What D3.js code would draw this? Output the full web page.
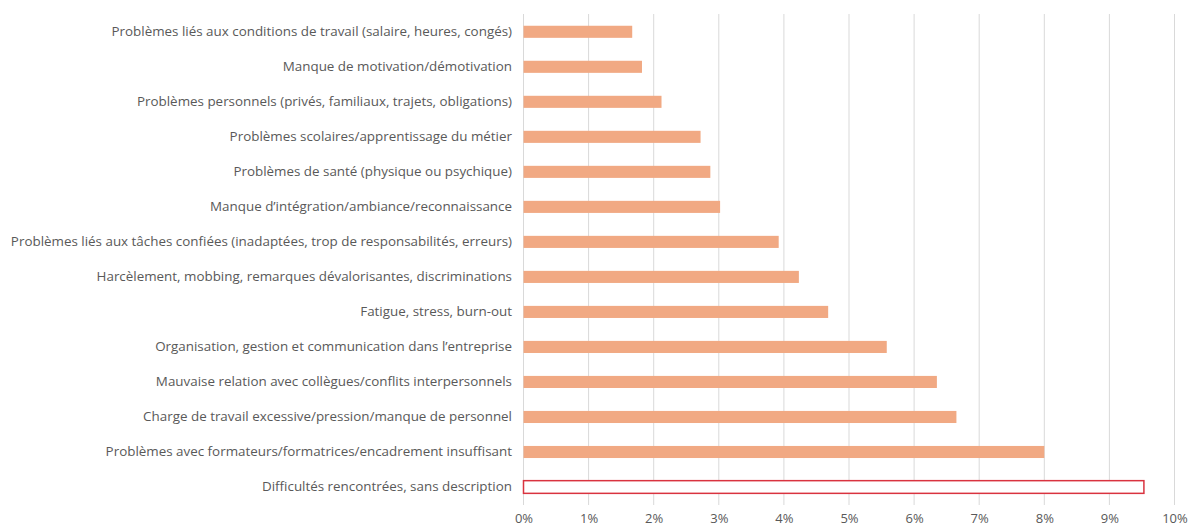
<!DOCTYPE html>
<html><head><meta charset="utf-8">
<script src="https://cdn.jsdelivr.net/npm/d3@7"></script>
<style>body{margin:0;background:#fff;}svg{display:block;}</style>
</head><body>
<script>
const categories = [
  "Problèmes liés aux conditions de travail (salaire, heures, congés)",
  "Manque de motivation/démotivation",
  "Problèmes personnels (privés, familiaux, trajets, obligations)",
  "Problèmes scolaires/apprentissage du métier",
  "Problèmes de santé (physique ou psychique)",
  "Manque d’intégration/ambiance/reconnaissance",
  "Problèmes liés aux tâches confiées (inadaptées, trop de responsabilités, erreurs)",
  "Harcèlement, mobbing, remarques dévalorisantes, discriminations",
  "Fatigue, stress, burn-out",
  "Organisation, gestion et communication dans l’entreprise",
  "Mauvaise relation avec collègues/conflits interpersonnels",
  "Charge de travail excessive/pression/manque de personnel",
  "Problèmes avec formateurs/formatrices/encadrement insuffisant",
  "Difficultés rencontrées, sans description"
];
const values = [1.67, 1.82, 2.12, 2.72, 2.87, 3.02, 3.92, 4.23, 4.68, 5.58, 6.35, 6.65, 8.0, 9.53];
const highlighted = [false,false,false,false,false,false,false,false,false,false,false,false,false,true];
const tickValues = [0,1,2,3,4,5,6,7,8,9,10];

const W = 1191, H = 529;
const svg = d3.select("body").append("svg").attr("width", W).attr("height", H);
const x = d3.scaleLinear().domain([0, 10]).range([523.5, 1174.5]);
const y = d3.scaleBand().domain(categories).range([14.2, 504.6]).paddingInner(0.655).paddingOuter(0.33);

const font = "'Open Sans', sans-serif";

// gridlines
svg.append("g").selectAll("line").data(tickValues).join("line")
  .attr("x1", d => x(d)).attr("x2", d => x(d))
  .attr("y1", 14).attr("y2", 505)
  .attr("stroke", "#d9d9d9").attr("stroke-width", 1);

// bars
svg.append("g").selectAll("rect").data(categories).join("rect")
  .attr("x", x(0))
  .attr("y", (d,i) => highlighted[i] ? y(d) - 0.3 : y(d))
  .attr("width", (d,i) => x(values[i]) - x(0))
  .attr("height", (d,i) => highlighted[i] ? y.bandwidth() + 0.6 : y.bandwidth())
  .attr("fill", (d,i) => highlighted[i] ? "#ffffff" : "#F1A983")
  .attr("stroke", (d,i) => highlighted[i] ? "#D9333F" : "none")
  .attr("stroke-width", 1.5);

// category labels
const yAxis = d3.axisLeft(y).tickSize(0).tickPadding(0);
const gy = svg.append("g").attr("transform", "translate(512,0)").call(yAxis);
gy.select(".domain").remove();
gy.selectAll("text").attr("font-family", font).attr("font-size", 13.4).attr("fill", "#595959");

// x axis tick labels
const xAxis = d3.axisBottom(x).tickValues(tickValues).tickFormat(d => d + "%").tickSize(0).tickPadding(0);
const gx = svg.append("g").attr("transform", "translate(0,514)").call(xAxis);
gx.select(".domain").remove();
gx.selectAll("text").attr("font-family", font).attr("font-size", 13).attr("fill", "#595959");
</script>
</body></html>
